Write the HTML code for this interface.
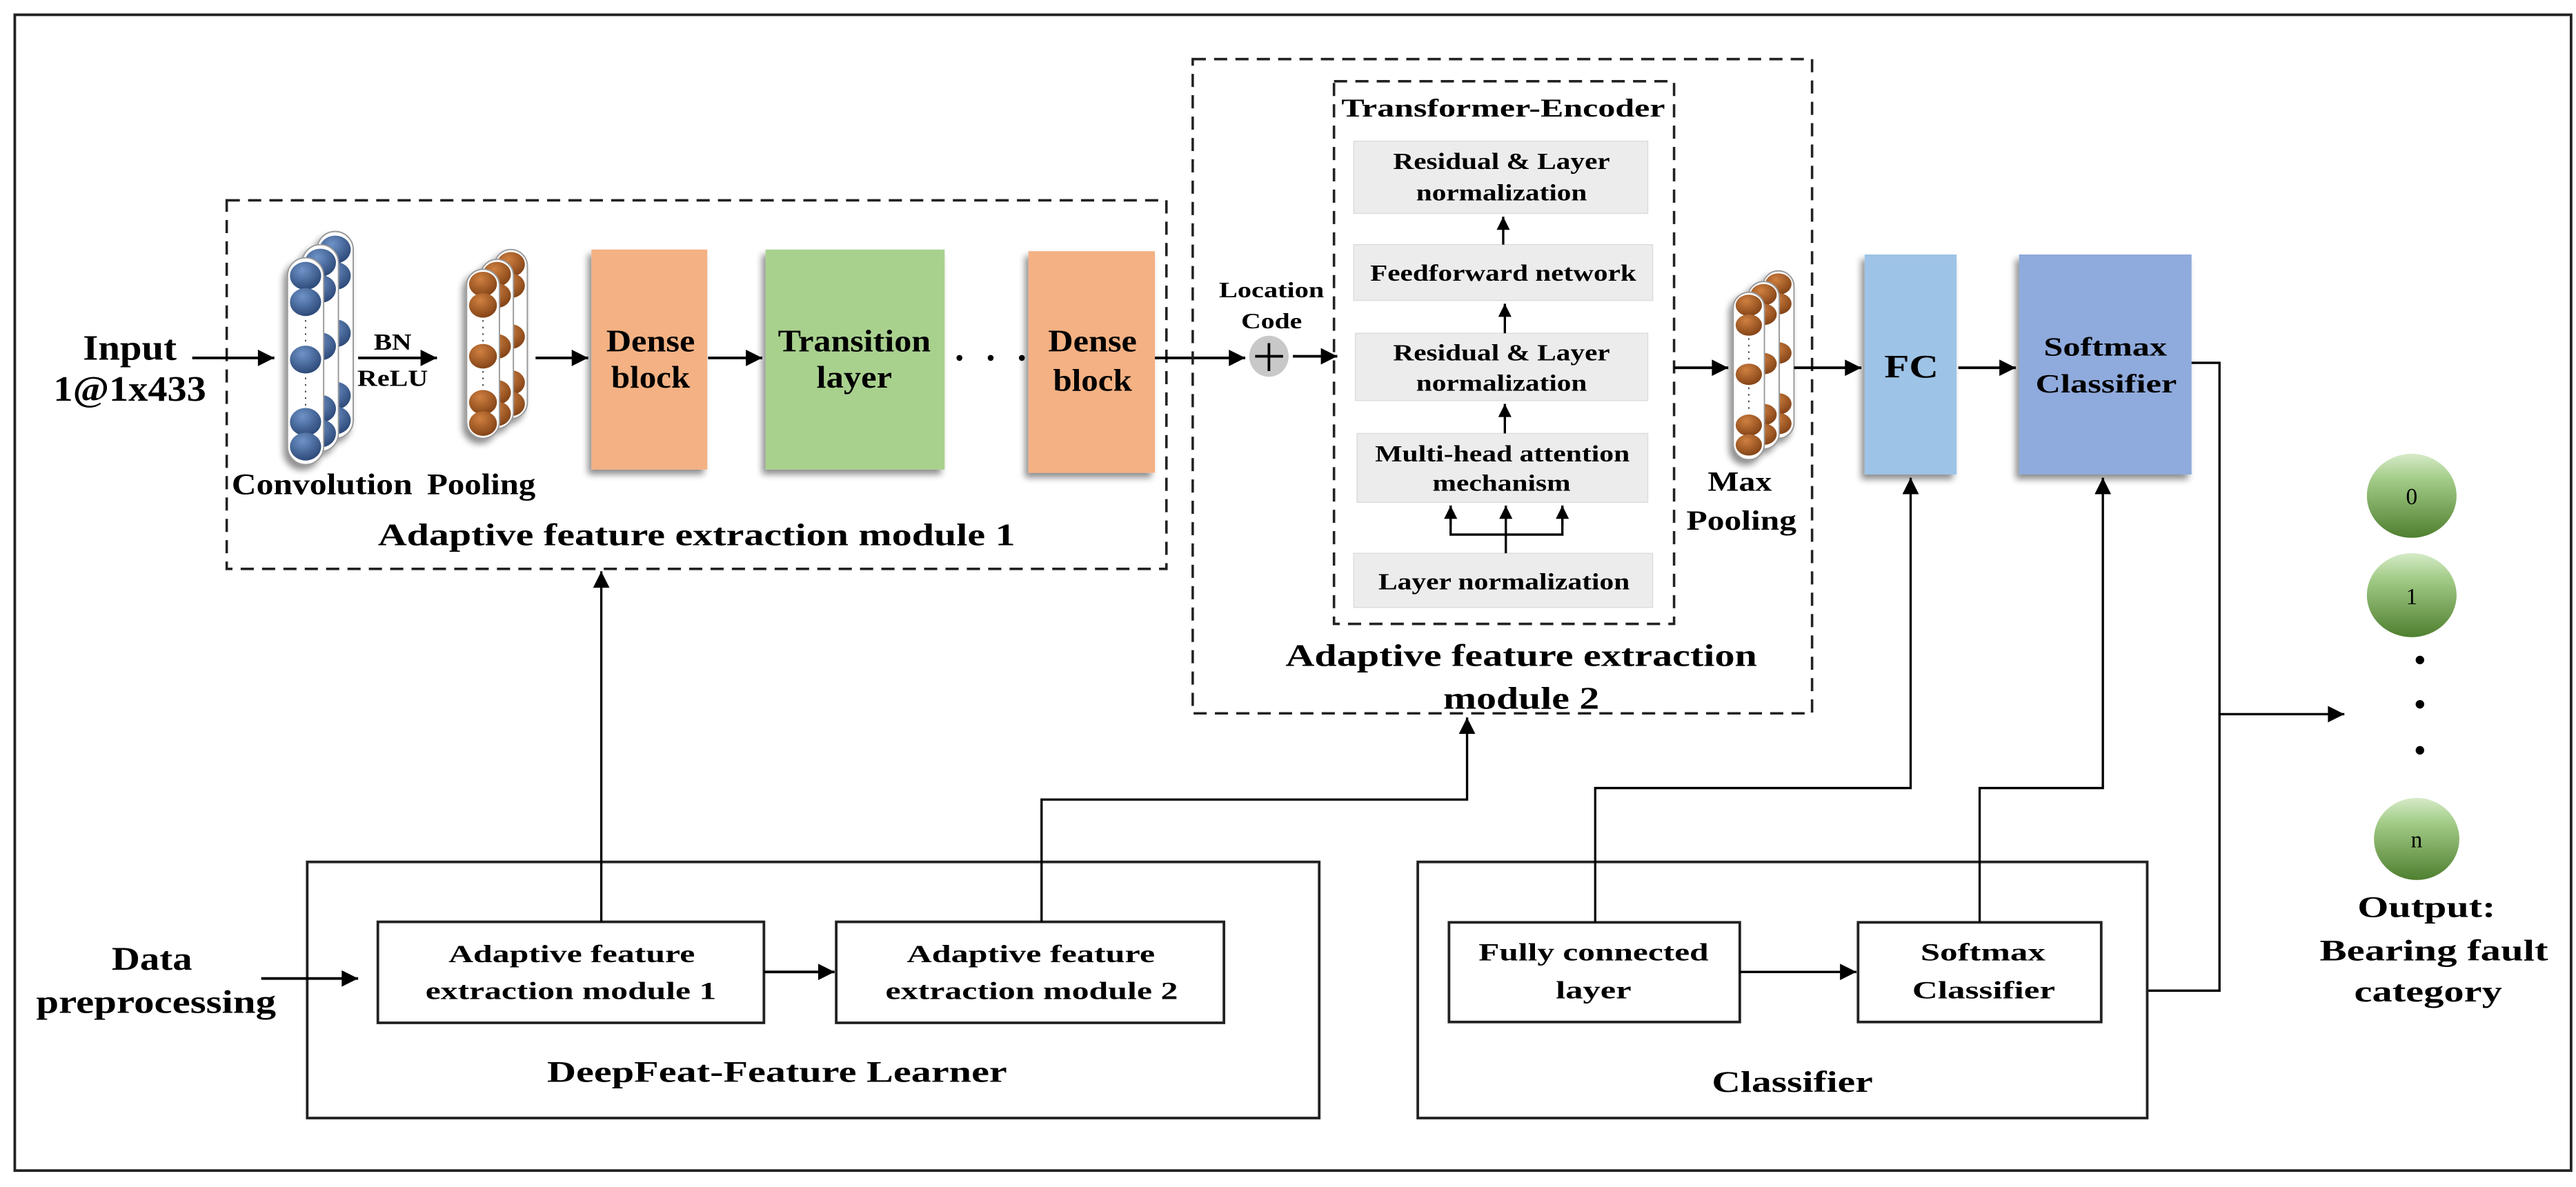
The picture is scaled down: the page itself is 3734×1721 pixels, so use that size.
<!DOCTYPE html>
<html><head><meta charset="utf-8"><style>
html,body{margin:0;padding:0;background:#fff;}
svg{display:block;}
text{font-family:"Liberation Serif",serif;font-weight:bold;fill:#000;}
</style></head><body>
<svg width="3734" height="1721" viewBox="0 0 1568 723" preserveAspectRatio="none" xmlns="http://www.w3.org/2000/svg">
<defs>
<marker id="ah" viewBox="0 0 10 10" refX="10" refY="5" markerWidth="12" markerHeight="8" markerUnits="userSpaceOnUse" orient="auto"><path d="M0,0L10,5L0,10z" fill="#000"/></marker>
<marker id="ahs" viewBox="0 0 10 10" refX="10" refY="5" markerWidth="15" markerHeight="10" markerUnits="userSpaceOnUse" orient="auto"><path d="M0,0L10,5L0,10z" fill="#000"/></marker>
<radialGradient id="gb" cx="0.4" cy="0.3" r="0.8"><stop offset="0" stop-color="#6f93c8"/><stop offset="1" stop-color="#24406e"/></radialGradient>
<radialGradient id="go" cx="0.4" cy="0.3" r="0.8"><stop offset="0" stop-color="#d08040"/><stop offset="1" stop-color="#7a3c12"/></radialGradient>
<linearGradient id="gg" x1="0" y1="0" x2="0" y2="1"><stop offset="0" stop-color="#d6ebc8"/><stop offset="0.3" stop-color="#a3cc88"/><stop offset="1" stop-color="#4f7f2f"/></linearGradient>
<filter id="sh" x="-20%" y="-20%" width="150%" height="150%"><feGaussianBlur in="SourceAlpha" stdDeviation="2"/><feOffset dx="-2" dy="3"/><feComponentTransfer><feFuncA type="linear" slope="0.45"/></feComponentTransfer><feMerge><feMergeNode/><feMergeNode in="SourceGraphic"/></feMerge></filter>
<g id="cylc">
<rect x="-11" y="0" width="22" height="126" rx="11" fill="#fff" stroke="#999" stroke-width="0.8"/>
<ellipse cx="0" cy="11" rx="9.5" ry="8.5" fill="url(#gb)"/>
<ellipse cx="0" cy="27" rx="9.5" ry="8.5" fill="url(#gb)"/>
<ellipse cx="0" cy="62" rx="9.5" ry="8.5" fill="url(#gb)"/>
<ellipse cx="0" cy="100" rx="9.5" ry="8.5" fill="url(#gb)"/>
<ellipse cx="0" cy="115" rx="9.5" ry="8.5" fill="url(#gb)"/>
<line x1="0" y1="38" x2="0" y2="52" stroke="#444" stroke-width="0.8" stroke-dasharray="1,3"/>
<line x1="0" y1="73" x2="0" y2="90" stroke="#444" stroke-width="0.8" stroke-dasharray="1,3"/>
</g>
<g id="cylp">
<rect x="-10" y="0" width="20" height="103" rx="10" fill="#fff" stroke="#999" stroke-width="0.8"/>
<ellipse cx="0" cy="9" rx="8.5" ry="7.5" fill="url(#go)"/>
<ellipse cx="0" cy="22" rx="8.5" ry="7.5" fill="url(#go)"/>
<ellipse cx="0" cy="53" rx="8.5" ry="7.5" fill="url(#go)"/>
<ellipse cx="0" cy="81" rx="8.5" ry="7.5" fill="url(#go)"/>
<ellipse cx="0" cy="94" rx="8.5" ry="7.5" fill="url(#go)"/>
<line x1="0" y1="31" x2="0" y2="45" stroke="#444" stroke-width="0.8" stroke-dasharray="1,3"/>
<line x1="0" y1="62" x2="0" y2="73" stroke="#444" stroke-width="0.8" stroke-dasharray="1,3"/>
</g>
<g id="cylm">
<rect x="-9.5" y="0" width="19" height="102" rx="9.5" fill="#fff" stroke="#999" stroke-width="0.8"/>
<ellipse cx="0" cy="8" rx="8" ry="6.5" fill="url(#go)"/>
<ellipse cx="0" cy="20" rx="8" ry="6.5" fill="url(#go)"/>
<ellipse cx="0" cy="50" rx="8" ry="6.5" fill="url(#go)"/>
<ellipse cx="0" cy="81" rx="8" ry="6.5" fill="url(#go)"/>
<ellipse cx="0" cy="93" rx="8" ry="6.5" fill="url(#go)"/>
<line x1="0" y1="28" x2="0" y2="42" stroke="#444" stroke-width="0.8" stroke-dasharray="1,3"/>
<line x1="0" y1="58" x2="0" y2="73" stroke="#444" stroke-width="0.8" stroke-dasharray="1,3"/>
</g>
</defs>

<rect x="9" y="9" width="1556" height="704" fill="none" stroke="#222" stroke-width="1.6"/>

<rect x="138" y="122" width="572" height="224.5" fill="none" stroke="#222" stroke-width="1.5" stroke-dasharray="8,5"/>
<text x="79" y="219" font-size="22" text-anchor="middle" textLength="57" lengthAdjust="spacingAndGlyphs">Input</text>
<text x="79" y="244" font-size="22" text-anchor="middle" textLength="93" lengthAdjust="spacingAndGlyphs">1@1x433</text>
<line x1="117" y1="218" x2="167" y2="218" stroke="#000" stroke-width="1.6" marker-end="url(#ahs)"/>

<g filter="url(#sh)">
<use href="#cylc" x="204" y="141"/>
<use href="#cylc" x="195" y="149"/>
<use href="#cylc" x="186" y="157"/>
</g>
<text x="239" y="213" font-size="14" text-anchor="middle" textLength="23" lengthAdjust="spacingAndGlyphs">BN</text>
<text x="239" y="235" font-size="14" text-anchor="middle" textLength="43" lengthAdjust="spacingAndGlyphs">ReLU</text>
<line x1="218" y1="218" x2="266" y2="218" stroke="#000" stroke-width="1.6" marker-end="url(#ahs)"/>
<g filter="url(#sh)">
<use href="#cylp" x="311" y="152"/>
<use href="#cylp" x="302.5" y="158"/>
<use href="#cylp" x="294" y="164"/>
</g>
<text x="196" y="301" font-size="18" text-anchor="middle" textLength="110" lengthAdjust="spacingAndGlyphs">Convolution</text>
<text x="293" y="301" font-size="18" text-anchor="middle" textLength="66" lengthAdjust="spacingAndGlyphs">Pooling</text>
<line x1="326" y1="218" x2="358" y2="218" stroke="#000" stroke-width="1.6" marker-end="url(#ahs)"/>

<rect x="360" y="152" width="70.5" height="134" fill="#f4b183" filter="url(#sh)"/>
<text x="396" y="214" font-size="19" text-anchor="middle" textLength="54" lengthAdjust="spacingAndGlyphs">Dense</text>
<text x="396" y="236" font-size="19" text-anchor="middle" textLength="48" lengthAdjust="spacingAndGlyphs">block</text>
<line x1="431" y1="218" x2="464" y2="218" stroke="#000" stroke-width="1.6" marker-end="url(#ahs)"/>
<rect x="466" y="152" width="109" height="134" fill="#a9d18e" filter="url(#sh)"/>
<text x="520" y="214" font-size="19" text-anchor="middle" textLength="93" lengthAdjust="spacingAndGlyphs">Transition</text>
<text x="520" y="236" font-size="19" text-anchor="middle" textLength="46" lengthAdjust="spacingAndGlyphs">layer</text>
<circle cx="584" cy="218" r="1.8" fill="#000"/><circle cx="603" cy="218" r="1.8" fill="#000"/><circle cx="622" cy="218" r="1.8" fill="#000"/>
<rect x="626" y="153" width="77" height="135" fill="#f4b183" filter="url(#sh)"/>
<text x="665" y="214" font-size="19" text-anchor="middle" textLength="54" lengthAdjust="spacingAndGlyphs">Dense</text>
<text x="665" y="238" font-size="19" text-anchor="middle" textLength="48" lengthAdjust="spacingAndGlyphs">block</text>
<text x="424" y="332" font-size="19" text-anchor="middle" textLength="388" lengthAdjust="spacingAndGlyphs">Adaptive feature extraction module 1</text>

<line x1="703" y1="218" x2="758" y2="218" stroke="#000" stroke-width="1.6" marker-end="url(#ahs)"/>
<rect x="726" y="36" width="377" height="398.5" fill="none" stroke="#222" stroke-width="1.5" stroke-dasharray="8,5"/>
<rect x="812" y="49.5" width="207" height="330.5" fill="none" stroke="#222" stroke-width="1.5" stroke-dasharray="8,5"/>
<text x="774" y="181" font-size="13.5" text-anchor="middle" textLength="64" lengthAdjust="spacingAndGlyphs">Location</text>
<text x="774" y="200" font-size="13.5" text-anchor="middle" textLength="37" lengthAdjust="spacingAndGlyphs">Code</text>
<ellipse cx="772.4" cy="217" rx="12" ry="12.5" fill="#c8c8c8"/>
<line x1="764" y1="217" x2="781" y2="217" stroke="#000" stroke-width="1.6"/>
<line x1="772.4" y1="209" x2="772.4" y2="226" stroke="#000" stroke-width="1.6"/>
<line x1="787" y1="217" x2="814" y2="217" stroke="#000" stroke-width="1.6" marker-end="url(#ahs)"/>
<text x="915" y="71" font-size="15.5" text-anchor="middle" textLength="197" lengthAdjust="spacingAndGlyphs">Transformer-Encoder</text>

<g fill="#ececec" stroke="#dcdcdc" stroke-width="0.6">
<rect x="824" y="86" width="179" height="44"/>
<rect x="824" y="149" width="182" height="34"/>
<rect x="825" y="203" width="178" height="41"/>
<rect x="826" y="264" width="177" height="42"/>
<rect x="824" y="337" width="182" height="33"/>
</g>
<text x="914" y="103" font-size="14" text-anchor="middle" textLength="132" lengthAdjust="spacingAndGlyphs">Residual &amp; Layer</text>
<text x="914" y="122" font-size="14" text-anchor="middle" textLength="104" lengthAdjust="spacingAndGlyphs">normalization</text>
<text x="915" y="171" font-size="14" text-anchor="middle" textLength="162" lengthAdjust="spacingAndGlyphs">Feedforward network</text>
<text x="914" y="219.5" font-size="14" text-anchor="middle" textLength="132" lengthAdjust="spacingAndGlyphs">Residual &amp; Layer</text>
<text x="914" y="238" font-size="14" text-anchor="middle" textLength="104" lengthAdjust="spacingAndGlyphs">normalization</text>
<text x="914.5" y="281" font-size="14" text-anchor="middle" textLength="155" lengthAdjust="spacingAndGlyphs">Multi-head attention</text>
<text x="914" y="299" font-size="14" text-anchor="middle" textLength="84" lengthAdjust="spacingAndGlyphs">mechanism</text>
<text x="915.5" y="359" font-size="14" text-anchor="middle" textLength="153" lengthAdjust="spacingAndGlyphs">Layer normalization</text>
<g stroke="#000" stroke-width="1.4" fill="none">
<line x1="915" y1="149" x2="915" y2="132" marker-end="url(#ah)"/>
<line x1="916" y1="203" x2="916" y2="185" marker-end="url(#ah)"/>
<line x1="916" y1="264" x2="916" y2="246" marker-end="url(#ah)"/>
<line x1="916.6" y1="337" x2="916.6" y2="308" marker-end="url(#ah)"/>
<polyline points="883,308 883,325.6 951,325.6 951,308"/>
<line x1="883" y1="320" x2="883" y2="308" marker-end="url(#ah)"/>
<line x1="951" y1="320" x2="951" y2="308" marker-end="url(#ah)"/>
</g>
<line x1="1019" y1="224" x2="1052" y2="224" stroke="#000" stroke-width="1.6" marker-end="url(#ahs)"/>
<g filter="url(#sh)">
<use href="#cylm" x="1082.5" y="165"/>
<use href="#cylm" x="1073.5" y="171.5"/>
<use href="#cylm" x="1064.5" y="178"/>
</g>
<text x="1059" y="299" font-size="17" text-anchor="middle" textLength="39" lengthAdjust="spacingAndGlyphs">Max</text>
<text x="1060" y="322.6" font-size="17" text-anchor="middle" textLength="67" lengthAdjust="spacingAndGlyphs">Pooling</text>
<text x="926" y="405.7" font-size="19" text-anchor="middle" textLength="287" lengthAdjust="spacingAndGlyphs">Adaptive feature extraction</text>
<text x="926" y="431.6" font-size="19" text-anchor="middle" textLength="95" lengthAdjust="spacingAndGlyphs">module 2</text>

<line x1="1092" y1="224" x2="1133" y2="224" stroke="#000" stroke-width="1.6" marker-end="url(#ahs)"/>
<rect x="1135" y="155" width="56" height="134" fill="#9dc3e6" filter="url(#sh)"/>
<text x="1163.5" y="230" font-size="20" text-anchor="middle" textLength="33" lengthAdjust="spacingAndGlyphs">FC</text>
<line x1="1192" y1="224" x2="1227" y2="224" stroke="#000" stroke-width="1.6" marker-end="url(#ahs)"/>
<rect x="1229" y="155" width="105" height="134" fill="#8faadc" filter="url(#sh)"/>
<text x="1281.5" y="216.5" font-size="16" text-anchor="middle" textLength="75" lengthAdjust="spacingAndGlyphs">Softmax</text>
<text x="1282" y="239" font-size="16" text-anchor="middle" textLength="86" lengthAdjust="spacingAndGlyphs">Classifier</text>

<polyline points="1334,221 1351,221 1351,603.4 1307,603.4" fill="none" stroke="#000" stroke-width="1.4"/>
<line x1="1351" y1="435" x2="1427" y2="435" stroke="#000" stroke-width="1.4" marker-end="url(#ahs)"/>
<ellipse cx="1468" cy="302" rx="27.3" ry="25.6" fill="url(#gg)"/>
<ellipse cx="1468" cy="362.5" rx="27.3" ry="25.6" fill="url(#gg)"/>
<ellipse cx="1471" cy="511" rx="26" ry="25" fill="url(#gg)"/>
<text x="1468" y="307" font-size="14" style="font-weight:normal" text-anchor="middle">0</text>
<text x="1468" y="368" font-size="14" style="font-weight:normal" text-anchor="middle">1</text>
<text x="1471" y="516" font-size="14" style="font-weight:normal" text-anchor="middle">n</text>
<circle cx="1473" cy="402" r="2.6" fill="#000"/><circle cx="1473" cy="429" r="2.6" fill="#000"/><circle cx="1473" cy="457" r="2.6" fill="#000"/>
<text x="1477" y="558.5" font-size="18" text-anchor="middle" textLength="84" lengthAdjust="spacingAndGlyphs">Output:</text>
<text x="1481.5" y="585" font-size="18" text-anchor="middle" textLength="139" lengthAdjust="spacingAndGlyphs">Bearing fault</text>
<text x="1478" y="610" font-size="18" text-anchor="middle" textLength="90" lengthAdjust="spacingAndGlyphs">category</text>

<rect x="187" y="525" width="616" height="156" fill="none" stroke="#222" stroke-width="1.6"/>
<rect x="230" y="561.5" width="235" height="61.5" fill="#fff" stroke="#222" stroke-width="1.6"/>
<rect x="509" y="561.5" width="236" height="61.5" fill="#fff" stroke="#222" stroke-width="1.6"/>
<text x="348" y="586" font-size="15" text-anchor="middle" textLength="150" lengthAdjust="spacingAndGlyphs">Adaptive feature</text>
<text x="347.5" y="608.6" font-size="15" text-anchor="middle" textLength="177" lengthAdjust="spacingAndGlyphs">extraction module 1</text>
<text x="627.5" y="586" font-size="15" text-anchor="middle" textLength="151" lengthAdjust="spacingAndGlyphs">Adaptive feature</text>
<text x="628" y="608.6" font-size="15" text-anchor="middle" textLength="178" lengthAdjust="spacingAndGlyphs">extraction module 2</text>
<line x1="465" y1="592" x2="508" y2="592" stroke="#000" stroke-width="1.6" marker-end="url(#ahs)"/>
<text x="473" y="659" font-size="18" text-anchor="middle" textLength="280" lengthAdjust="spacingAndGlyphs">DeepFeat-Feature Learner</text>
<text x="92.5" y="590.6" font-size="20" text-anchor="middle" textLength="49" lengthAdjust="spacingAndGlyphs">Data</text>
<text x="95" y="617" font-size="20" text-anchor="middle" textLength="146" lengthAdjust="spacingAndGlyphs">preprocessing</text>
<line x1="159" y1="596" x2="218" y2="596" stroke="#000" stroke-width="1.6" marker-end="url(#ahs)"/>
<line x1="366" y1="561.5" x2="366" y2="348" stroke="#000" stroke-width="1.4" marker-end="url(#ahs)"/>
<polyline points="634,561.5 634,487 893,487 893,437" fill="none" stroke="#000" stroke-width="1.4" marker-end="url(#ahs)"/>

<rect x="863" y="525" width="444" height="156" fill="none" stroke="#222" stroke-width="1.6"/>
<rect x="882" y="561.8" width="177" height="60.7" fill="#fff" stroke="#222" stroke-width="1.6"/>
<rect x="1131" y="561.8" width="148" height="60.7" fill="#fff" stroke="#222" stroke-width="1.6"/>
<text x="970" y="585" font-size="15" text-anchor="middle" textLength="140" lengthAdjust="spacingAndGlyphs">Fully connected</text>
<text x="970" y="608" font-size="15" text-anchor="middle" textLength="46" lengthAdjust="spacingAndGlyphs">layer</text>
<text x="1207" y="585" font-size="15" text-anchor="middle" textLength="76" lengthAdjust="spacingAndGlyphs">Softmax</text>
<text x="1207.5" y="608" font-size="15" text-anchor="middle" textLength="87" lengthAdjust="spacingAndGlyphs">Classifier</text>
<line x1="1059" y1="592" x2="1130" y2="592" stroke="#000" stroke-width="1.4" marker-end="url(#ahs)"/>
<text x="1091" y="665" font-size="18" text-anchor="middle" textLength="98" lengthAdjust="spacingAndGlyphs">Classifier</text>
<polyline points="971,561.8 971,480 1163,480 1163,291" fill="none" stroke="#000" stroke-width="1.4" marker-end="url(#ahs)"/>
<polyline points="1205,561.8 1205,480 1280,480 1280,291" fill="none" stroke="#000" stroke-width="1.4" marker-end="url(#ahs)"/>
</svg>
</body></html>
